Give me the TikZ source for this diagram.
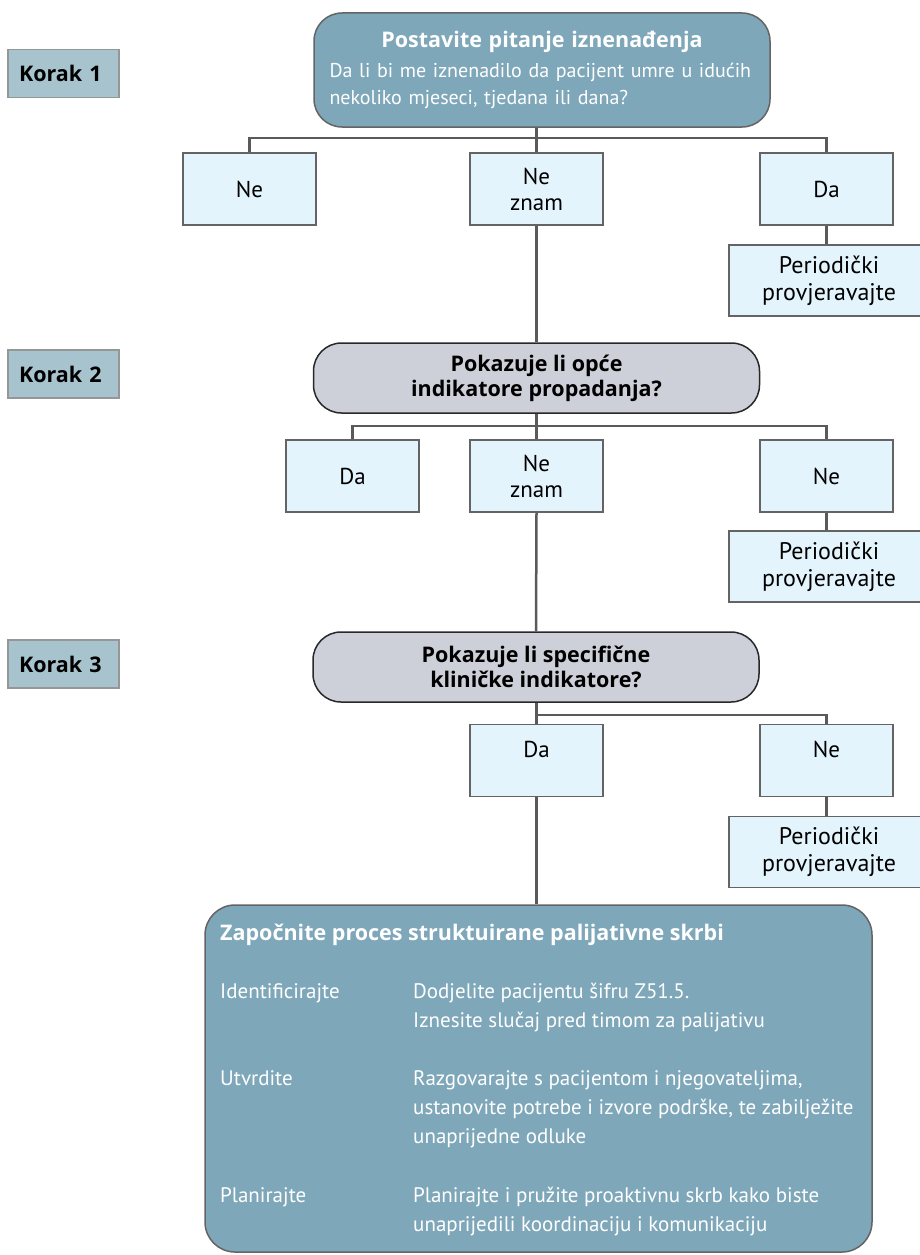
\documentclass[tikz,border=0pt]{standalone}
\usepackage{fontspec}
\setmainfont{PT Sans}
\newfontfamily\jako{Open Sans}
\definecolor{tealfill}{RGB}{126,167,185}
\definecolor{korakfill}{RGB}{167,195,206}
\definecolor{korakline}{RGB}{150,150,150}
\definecolor{boxfill}{RGB}{227,244,252}
\definecolor{boxline}{RGB}{100,100,100}
\definecolor{decfill}{RGB}{205,208,216}
\definecolor{decline}{RGB}{40,40,40}
\definecolor{linecol}{RGB}{90,90,90}
\begin{document}
\begin{tikzpicture}[x=1pt, y=-1pt,
    conn/.style = {draw=linecol, line width=2.5pt},
    korak/.style = {draw=korakline, fill=korakfill, line width=1.2pt, inner xsep=11pt, text width=89pt, align=left, minimum height=48pt, font=\fontsize{21.5}{23}\selectfont\jako\bfseries},
    odg/.style = {draw=boxline, fill=boxfill, line width=1.5pt, minimum width=133pt, minimum height=72pt, align=center, font=\fontsize{23}{26}\selectfont},
    provjera/.style = {odg, minimum width=200pt, minimum height=71pt, font=\fontsize{24}{27}\selectfont},
    upit/.style = {draw=decline, fill=decfill, line width=1.5pt, rounded corners=28pt, minimum width=446pt, minimum height=70pt, align=center, font=\fontsize{21.5}{25}\selectfont\jako\bfseries},
    plavi/.style = {draw=boxline, fill=tealfill, line width=1.5pt, rounded corners=28pt, text=white},
    stavka/.style = {anchor=base west, inner sep=0pt, text=white, align=left, font=\fontsize{21}{29}\selectfont}
    ]
    \useasboundingbox (0,0) rectangle (919,1255);
    % koraci
    \node[korak] (k1) at (63.5,73.5) {Korak 1};
    \node[korak] (k2) at (63.5,374) {Korak 2};
    \node[korak] (k3) at (63.5,664) {Korak 3};
    % korak 1
    \node[plavi, minimum width=456pt, minimum height=114pt, text width=425pt, align=left, font=\fontsize{20}{27}\selectfont] (iznenadjenje) at (542,70)
        {\makebox[\linewidth][c]{\fontsize{21.5}{27}\selectfont\jako\bfseries Postavite pitanje iznenađenja}\\[3pt]
         Da li bi me iznenadilo da pacijent umre u idućih\\
         nekoliko mjeseci, tjedana ili dana?};
    \node[odg] (ne1) at (249.5,189) {Ne};
    \node[odg] (nez1) at (536.5,189) {Ne\\znam};
    \node[odg] (da1) at (826.5,189) {Da};
    \node[provjera] (per1) at (829,280.5) {Periodički\\provjeravajte};
    \coordinate (r1) at (536.5,138);
    \draw[conn] (iznenadjenje.south -| r1) -- (nez1.north);
    \draw[conn] (ne1.north) |- (r1) -| (da1.north);
    \draw[conn] (da1.south) -- (da1.south |- per1.north);
    % korak 2
    \node[upit] (opci) at (536.5,378) {Pokazuje li opće\\indikatore propadanja?};
    \draw[conn] (nez1.south) -- (opci.north);
    \node[odg] (da2) at (352.5,476) {Da};
    \node[odg] (nez2) at (536.5,476) {Ne\\znam};
    \node[odg] (ne2) at (826.5,476) {Ne};
    \node[provjera] (per2) at (829,566.5) {Periodički\\provjeravajte};
    \coordinate (r2) at (536.5,426);
    \draw[conn] (opci.south) -- (nez2.north);
    \draw[conn] (da2.north) |- (r2) -| (ne2.north);
    \draw[conn] (ne2.south) -- (ne2.south |- per2.north);
    % korak 3
    \node[upit] (spec) at (536,667) {Pokazuje li specifične\\kliničke indikatore?};
    \draw[conn] (nez2.south) -- (spec.north);
    \node[odg, text depth=22pt] (da3) at (536.5,760.5) {Da};
    \node[odg, text depth=22pt] (ne3) at (826.5,760.5) {Ne};
    \node[provjera] (per3) at (829,852) {Periodički\\provjeravajte};
    \coordinate (r3) at (536.5,715);
    \draw[conn] (spec.south -| r3) -- (da3.north);
    \draw[conn] (r3) -| (ne3.north);
    \draw[conn] (ne3.south) -- (ne3.south |- per3.north);
    % palijativna skrb
    \node[plavi, rounded corners=30pt, minimum width=667pt, minimum height=347pt] (skrb) at (538.5,1078.5) {};
    \draw[conn] (da3.south) -- (da3.south |- skrb.north);
    \node[stavka, font=\fontsize{21.5}{25}\selectfont\jako\bfseries] (naslov) at (220,940) {Započnite proces struktuirane palijativne skrbi};
    \node[stavka] (id) at (220,998) {Identificirajte};
    \node[stavka] (idopis) at (413,1027) {Dodjelite pacijentu šifru Z51.5.\\Iznesite slučaj pred timom za palijativu};
    \node[stavka] (ut) at (220,1085) {Utvrdite};
    \node[stavka] (utopis) at (413,1143) {Razgovarajte s pacijentom i njegovateljima,\\ustanovite potrebe i izvore podrške, te zabilježite\\unaprijedne odluke};
    \node[stavka] (pl) at (220,1202) {Planirajte};
    \node[stavka] (plopis) at (413,1231) {Planirajte i pružite proaktivnu skrb kako biste\\unaprijedili koordinaciju i komunikaciju};
\end{tikzpicture}
\end{document}
